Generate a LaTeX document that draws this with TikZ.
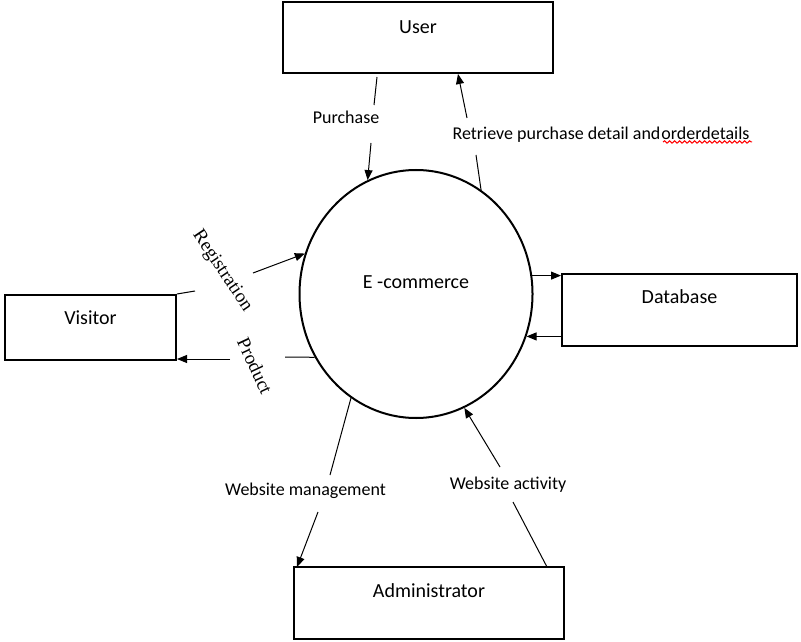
\documentclass[tikz,border=0pt]{standalone}
\usepackage{fontspec}
\setmainfont{Carlito}
\newfontfamily\timesface{Liberation Serif}
\usetikzlibrary{arrows.meta, shapes.geometric, decorations.pathmorphing}
\tikzset{
  entity/.style={draw, line width=1pt, inner sep=0pt, text height=6.5pt,
    font=\fontsize{10}{12}\selectfont},
  flow/.style={line width=0.5pt},
  flowto/.style={flow, -{Triangle[length=5pt, width=4pt]}},
  flowlabel/.style={font=\fontsize{9}{11}\selectfont, inner sep=0pt, anchor=base},
  tiltlabel/.style={font=\timesface\fontsize{9.5}{11}\selectfont, inner sep=0pt}
}

\begin{document}
\begin{tikzpicture}[x=0.5pt, y=-0.5pt]
\useasboundingbox (0,0) rectangle (801,641);
% process and external entities
\node[ellipse, draw, line width=1pt, minimum width=116.5pt, minimum height=124pt,
  inner sep=0pt, text height=6.5pt, text depth=12pt, font=\fontsize{10}{12}\selectfont]
  (ec) at (416,294) {E -commerce};
\node[entity, minimum width=135pt, minimum height=35.5pt, text depth=10.5pt] (user) at (418,37.5) {User};
\node[entity, minimum width=85.5pt, minimum height=32.5pt, text depth=9.5pt] (visitor) at (90.5,327.5) {Visitor};
\node[entity, minimum width=117.5pt, minimum height=36pt, text depth=13pt] (db) at (679.5,310) {Database};
\node[entity, minimum width=135pt, minimum height=36pt, text depth=12pt] (admin) at (429,603) {Administrator};
% gap ends of the broken connectors
\coordinate (pu1) at (377,77);
\coordinate (pu2) at (374,105);
\coordinate (pu3) at (371,143);
\coordinate (rt1) at (476,155);
\coordinate (rt2) at (467,118);
\coordinate (rt3) at (458,74);
\coordinate (rg1) at (195,291);
\coordinate (rg2) at (253,273);
\coordinate (pr1) at (285,357);
\coordinate (pr2) at (230,359);
\coordinate (wm1) at (330,475);
\coordinate (wm2) at (318,512);
\coordinate (wm3) at (297,567);
\coordinate (wa1) at (547,567);
\coordinate (wa2) at (513,502);
\coordinate (wa3) at (500,467);
% User
\draw[flow] (pu1) -- (pu2);
\draw[flowto] (pu3) -- (ec.113);
\node[flowlabel] (purchase) at (346,124) {Purchase};
\draw[flow] (ec.58) -- (rt1);
\draw[flowto] (rt2) -- (rt3);
\node[flowlabel] (retrieve) at (601,140) {Retrieve purchase detail and\kern0.5pt orderdetails};
\draw[red, line width=0.5pt, decorate, decoration={snake, amplitude=0.6pt, segment length=2.5pt}]
  (663,142) -- (752,142);
% Visitor
\draw[flow] (visitor.north east) -- (rg1);
\draw[flowto] (rg2) -- (ec.160);
\node[tiltlabel, rotate=-56] (registration) at (222,271) {Registration};
\draw[flow] (ec.212) -- (pr1);
\draw[flowto] (pr2) -- (pr2 -| visitor.east);
\node[tiltlabel, rotate=-65] (product) at (255,366) {Product};
% Database
\draw[flowto] (ec.9) -- (ec.9 -| db.west);
\draw[flowto] (ec.-21 -| db.west) -- (ec.-21);
% Administrator
\draw[flow] (ec.238) -- (wm1);
\draw[flowto] (wm2) -- (wm3);
\node[flowlabel] (management) at (305.5,495) {Website management};
\draw[flow] (wa1) -- (wa2);
\draw[flowto] (wa3) -- (ec.293);
\node[flowlabel] (activity) at (508,489) {Website activity};
\end{tikzpicture}
\end{document}
